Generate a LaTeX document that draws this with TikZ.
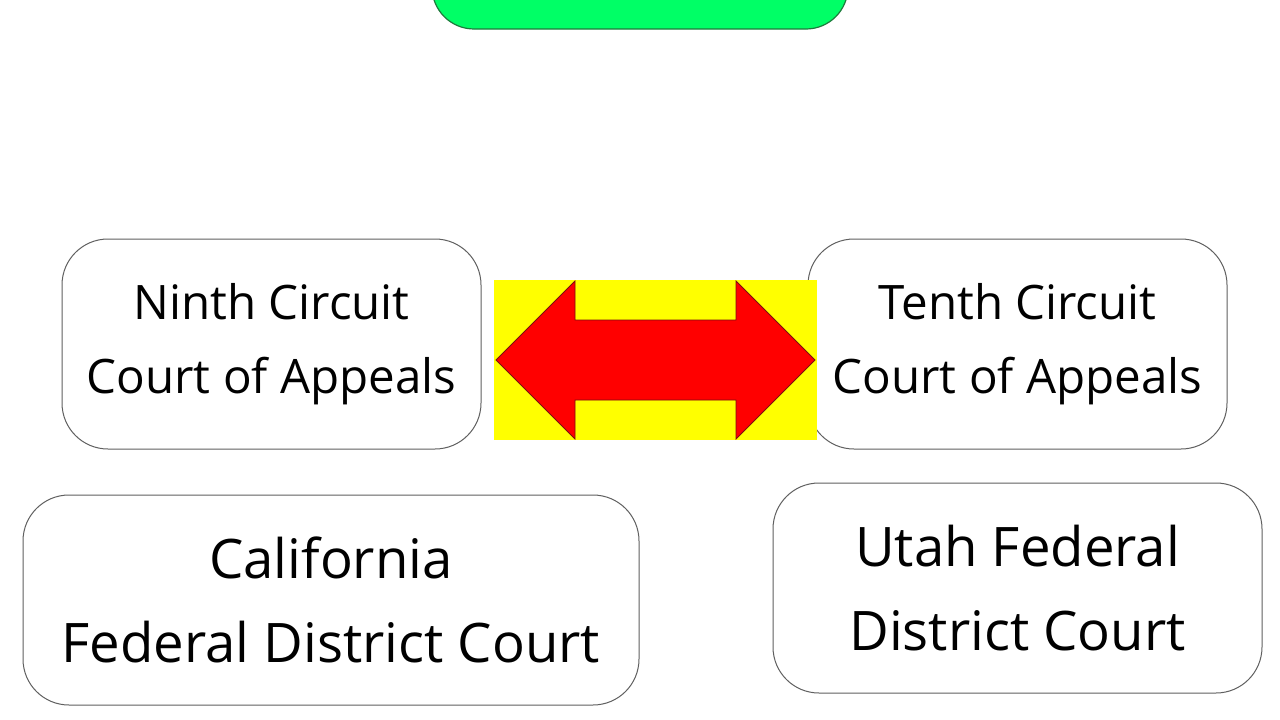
\documentclass[tikz,border=0pt]{standalone}
\usepackage{fontspec}
\setmainfont{Open Sans}
\definecolor{boxline}{HTML}{606060}
\definecolor{topgreen}{HTML}{00FF66}
\definecolor{topgreenline}{HTML}{1E7A3C}
\definecolor{arrowred}{HTML}{FF0000}
\definecolor{arrowline}{HTML}{7A1010}
\definecolor{bgyellow}{HTML}{FFFF00}
\tikzset{
  court/.style={draw=boxline, line width=1pt, rounded corners=46pt, fill=white,
    align=center, text=black, inner sep=0pt},
  small/.style={font=\fontsize{47.5}{74}\selectfont},
  big/.style={font=\fontsize{54.5}{84}\selectfont},
}
\begin{document}
\begin{tikzpicture}[x=1pt,y=-1pt]
\useasboundingbox (0,0) rectangle (1280,720);
\fill[white] (0,0) rectangle (1280,720);
% top green shape
\draw[fill=topgreen, draw=topgreenline, line width=1.2pt, rounded corners=42pt]
  (432,-80) rectangle (848,29);
% boxes
\node[court, small, minimum width=419pt, minimum height=210pt] (ninth) at (271.5,344)
  {Ninth Circuit\\Court of Appeals};
\node[court, small, minimum width=419pt, minimum height=210pt] (tenth) at (1017.5,344)
  {Tenth Circuit\\Court of Appeals};
\node[court, big, minimum width=616pt, minimum height=210pt] (cal) at (331,600)
  {California\\Federal District Court};
\node[court, big, minimum width=489pt, minimum height=210pt] (utah) at (1017.5,588)
  {Utah Federal\\District Court};
% yellow background and red double arrow
\fill[bgyellow] (494,280) rectangle (817,440);
\draw[fill=arrowred, draw=arrowline, line width=0.8pt, line join=miter]
  (496,360) -- (575,281) -- (575,320) -- (736,320) -- (736,281) -- (815,360)
  -- (736,439) -- (736,400) -- (575,400) -- (575,439) -- cycle;
\end{tikzpicture}
\end{document}
